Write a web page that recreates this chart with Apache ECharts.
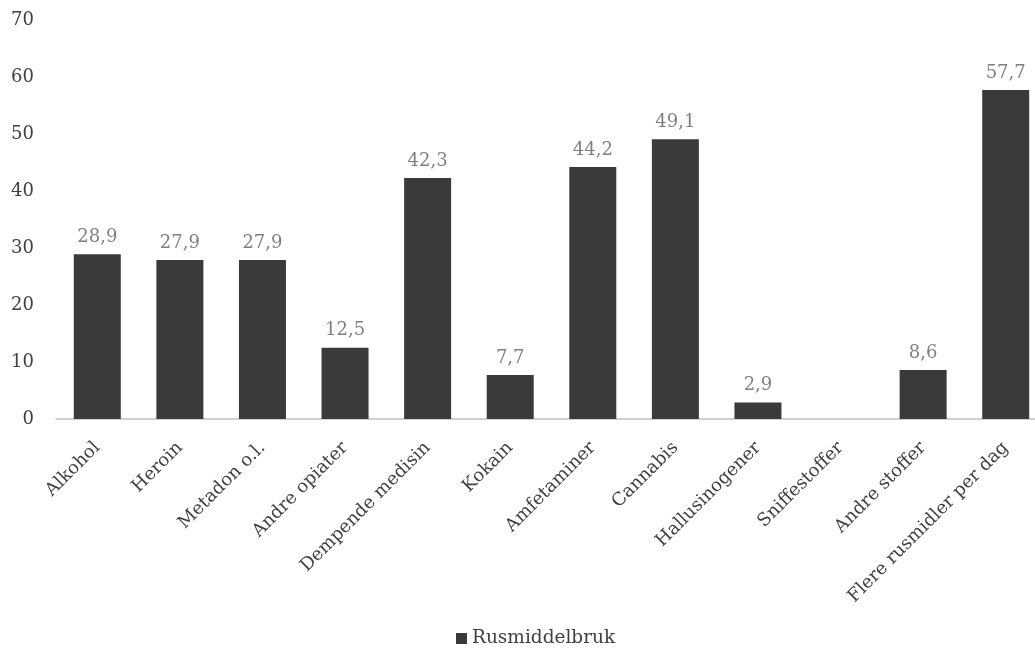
<!DOCTYPE html>
<html><head><meta charset="utf-8">
<script src="https://cdn.jsdelivr.net/npm/echarts@6/dist/echarts.min.js"></script>
<style>html,body{margin:0;padding:0;background:#fff}#c{width:1035px;height:650px}</style>
</head><body><div id="c"></div>
<script>
const categories = ['Alkohol','Heroin','Metadon o.l.','Andre opiater','Dempende medisin','Kokain','Amfetaminer','Cannabis','Hallusinogener','Sniffestoffer','Andre stoffer','Flere rusmidler per dag'];
const values = [28.9,27.9,27.9,12.5,42.3,7.7,44.2,49.1,2.9,null,8.6,57.7];
const seriesName = 'Rusmiddelbruk';
const font = '"DejaVu Serif", serif';
const chart = echarts.init(document.getElementById('c'));
chart.setOption({
  animation:false,
  grid:{left:56,width:991,top:20,bottom:231,containLabel:false,outerBoundsMode:'none'},
  legend:{bottom:-3,left:451,itemWidth:11,itemHeight:11,icon:'rect',
    textStyle:{fontFamily:font,fontSize:18.5,color:'#404040'}},
  xAxis:{type:'category',data:categories,
    axisLine:{lineStyle:{color:'#c8bfc2',width:1.5}},axisTick:{show:false},
    axisLabel:{rotate:45,interval:0,fontFamily:font,fontSize:18,color:'#404040',margin:26}},
  yAxis:{type:'value',min:0,max:70,interval:10,splitLine:{show:false},
    axisLine:{show:false},axisTick:{show:false},
    axisLabel:{fontFamily:font,fontSize:18,color:'#404040',margin:22,align:'right'}},
  series:[{name:seriesName,type:'bar',data:values,barWidth:47,
    itemStyle:{color:'#3a3a3a'},
    label:{show:true,position:'top',distance:8,fontFamily:font,fontSize:18,color:'#7f7f7f',
      formatter:p=>p.value==null?'':String(p.value).replace('.',',')}}]
});
</script></body></html>
